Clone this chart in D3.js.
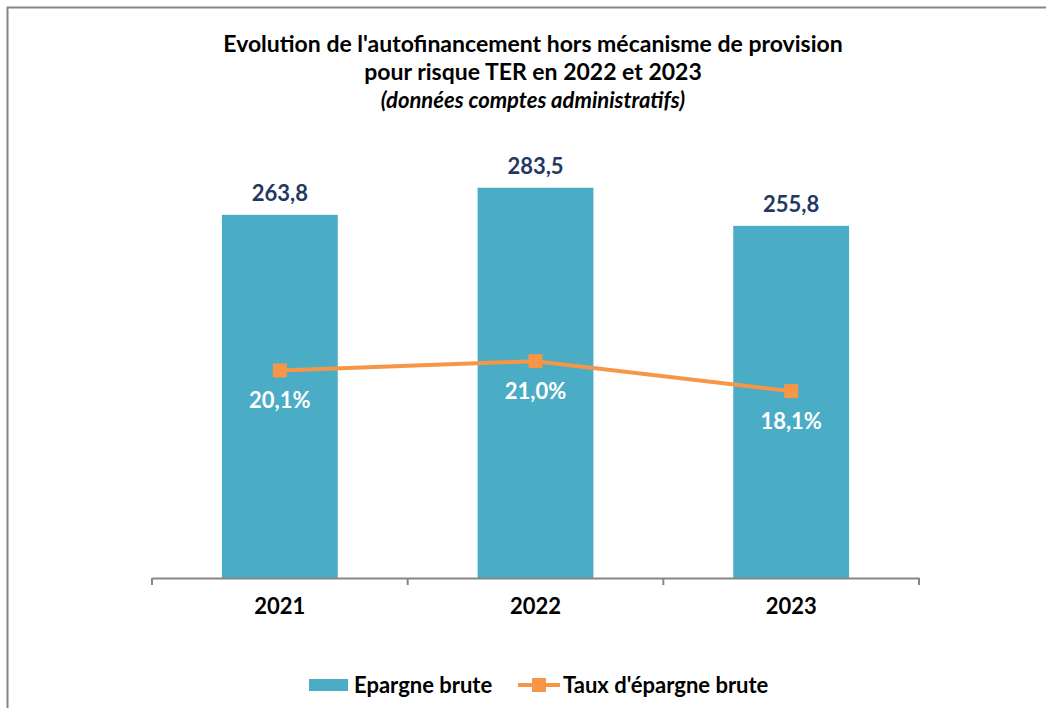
<!DOCTYPE html>
<html><head><meta charset="utf-8">
<script src="https://cdn.jsdelivr.net/npm/d3@7"></script>
<style>body{margin:0;background:#fff}svg{display:block;font-family:Lato,"Open Sans",sans-serif}</style>
</head><body><svg id="c" width="1046" height="708"></svg>
<script>
const categories = ["2021","2022","2023"];
const epargneBrute = [263.8, 283.5, 255.8];
const tauxEpargne = [20.1, 21.0, 18.1];
const seriesNames = ["Epargne brute","Taux d'épargne brute"];
const titleLines = ["Evolution de l'autofinancement hors mécanisme de provision","pour risque TER en 2022 et 2023","(données comptes administratifs)"];

const svg = d3.select("#c");
const blue = "#4BACC6", orange = "#F79646", navy = "#1F3864";
svg.append("rect").attr("x",7.5).attr("y",7.5).attr("width",1100).attr("height",800)
  .attr("fill","#fff").attr("stroke","#868686").attr("stroke-width",2);

const xAxisScale = d3.scaleBand().domain(categories).range([152,919]);
const barW = xAxisScale.bandwidth()*0.453;
const cxc = c => xAxisScale(c)+xAxisScale.bandwidth()/2;
const y = d3.scaleLinear().domain([0,300]).range([578,165]);
const y2 = d3.scaleLinear().domain([0,40]).range([578,165]);

// title
const t = svg.append("g").attr("text-anchor","middle").attr("font-weight","bold").attr("fill","#000");
t.append("text").attr("x",533).attr("y",52).attr("font-size",23).text(titleLines[0]);
t.append("text").attr("x",533).attr("y",80).attr("font-size",23).text(titleLines[1]);
t.append("text").attr("x",533).attr("y",108).attr("font-size",22).attr("font-style","italic").text(titleLines[2]);

// bars
svg.append("g").selectAll("rect").data(epargneBrute).join("rect")
  .attr("x",(d,i)=>cxc(categories[i])-barW/2).attr("width",barW)
  .attr("y",d=>y(d)).attr("height",d=>y(0)-y(d)).attr("fill",blue);
svg.append("g").selectAll("text").data(epargneBrute).join("text")
  .attr("x",(d,i)=>cxc(categories[i])).attr("y",d=>y(d)-14)
  .attr("text-anchor","middle").attr("font-weight","bold").attr("font-size",22).attr("fill",navy)
  .text(d=>d.toFixed(1).replace(".",","));

// axis
const ax = svg.append("g").attr("transform","translate(0,578)")
  .call(d3.axisBottom(xAxisScale).tickValues([]).tickSizeOuter(0));
ax.select(".domain").attr("stroke","#868686").attr("stroke-width",2);
const tickXs = [152, ...categories.map(c=>xAxisScale(c)+xAxisScale.bandwidth())];
svg.append("g").selectAll("line").data(tickXs).join("line")
  .attr("x1",d=>d).attr("x2",d=>d).attr("y1",578).attr("y2",585).attr("stroke","#868686").attr("stroke-width",2);
svg.append("g").selectAll("text").data(categories).join("text")
  .attr("x",d=>cxc(d)).attr("y",614)
  .attr("text-anchor","middle").attr("font-weight","bold").attr("font-size",22).attr("fill","#000").text(d=>d);

// line
const cx = (d,i)=>cxc(categories[i]);
svg.append("path").datum(tauxEpargne)
  .attr("d",d3.line().x(cx).y(d=>y2(d)))
  .attr("fill","none").attr("stroke",orange).attr("stroke-width",4);
svg.append("g").selectAll("rect").data(tauxEpargne).join("rect")
  .attr("x",(d,i)=>cx(d,i)-7).attr("y",d=>y2(d)-7).attr("width",14).attr("height",14).attr("fill",orange);
svg.append("g").selectAll("text").data(tauxEpargne).join("text")
  .attr("x",cx).attr("y",d=>y2(d)+38)
  .attr("text-anchor","middle").attr("font-weight","bold").attr("font-size",22).attr("fill","#fff")
  .text(d=>d.toFixed(1).replace(".",",")+"%");

// legend
const lg = svg.append("g").attr("font-weight","bold").attr("font-size",22).attr("fill","#000");
lg.append("rect").attr("x",309).attr("y",679).attr("width",39).attr("height",12).attr("fill",blue);
lg.append("text").attr("x",354).attr("y",693).text(seriesNames[0]);
lg.append("line").attr("x1",518).attr("x2",560).attr("y1",685).attr("y2",685).attr("stroke",orange).attr("stroke-width",4);
lg.append("rect").attr("x",532).attr("y",678).attr("width",14).attr("height",14).attr("fill",orange);
lg.append("text").attr("x",563).attr("y",693).text(seriesNames[1]);
</script></body></html>
